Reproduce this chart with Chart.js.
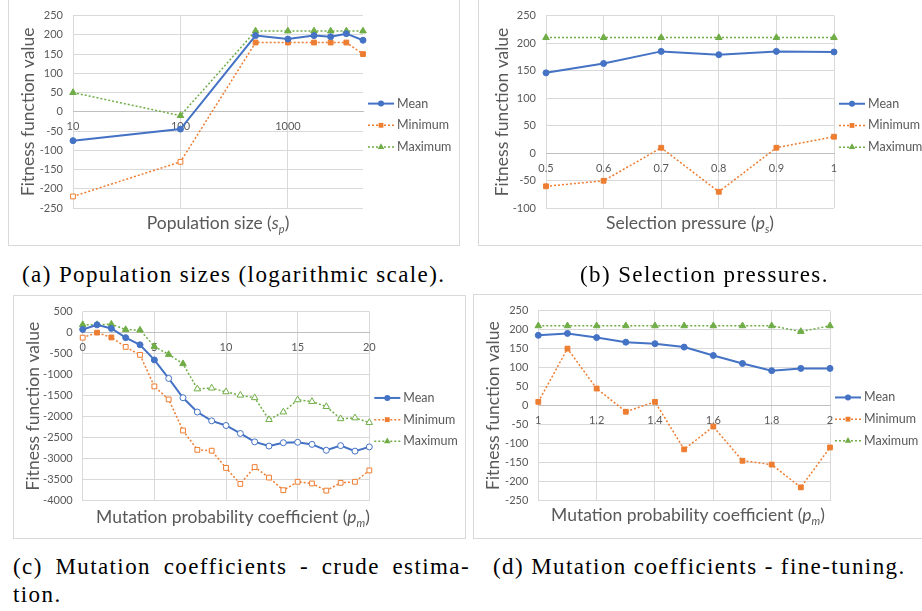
<!DOCTYPE html>
<html>
<head>
<meta charset="utf-8">
<script src="https://cdn.jsdelivr.net/npm/chart.js"></script>
<style>
body{margin:0;background:#fff;width:922px;height:611px;overflow:hidden;position:relative;font-family:Lato,sans-serif}
.panel{position:absolute}
.panel canvas{display:block}
.frame{position:absolute;border:1px solid #d9d9d9;box-sizing:border-box}
.xt{position:absolute;color:#595959;font-size:17.5px;white-space:nowrap;transform:translate(-50%,-50%);line-height:20px}
.xt sub{font-size:11px;vertical-align:-4px;line-height:0}
.cap{position:absolute;font-family:"Liberation Serif",serif;font-size:23px;letter-spacing:1.4px;color:#000;white-space:nowrap;line-height:28px}
</style>
</head>
<body>

<div class="frame" style="left:8px;top:-2px;width:452px;height:248px"></div>
<div class="panel" style="left:8px;top:-1px"><canvas id="chartA" width="452" height="247"></canvas></div>
<div class="xt" style="left:218px;top:223px">Population size (<i>s</i><sub><i>p</i></sub>)</div>

<div class="frame" style="left:478px;top:-2px;width:446px;height:248px"></div>
<div class="panel" style="left:478px;top:-1px"><canvas id="chartB" width="444" height="247"></canvas></div>
<div class="xt" style="left:690px;top:223px">Selection pressure (<i>p</i><sub><i>s</i></sub>)</div>

<div class="frame" style="left:13px;top:295px;width:453px;height:244px"></div>
<div class="panel" style="left:13px;top:295px"><canvas id="chartC" width="453" height="244"></canvas></div>
<div class="xt" style="left:233px;top:517px">Mutation probability coefficient (<i>p</i><sub><i>m</i></sub>)</div>

<div class="frame" style="left:473px;top:294px;width:451px;height:245px"></div>
<div class="panel" style="left:473px;top:294px"><canvas id="chartD" width="449" height="245"></canvas></div>
<div class="xt" style="left:688px;top:515px">Mutation probability coefficient (<i>p</i><sub><i>m</i></sub>)</div>

<div class="cap" style="left:22px;top:261px">(a) Population sizes (logarithmic scale).</div>
<div class="cap" style="left:580px;top:261px">(b) Selection pressures.</div>
<div class="cap" style="left:13px;top:553px;width:457px;text-align:justify;text-align-last:justify">(c) Mutation coefficients - crude estima-</div>
<div class="cap" style="left:13px;top:581px">tion.</div>
<div class="cap" style="left:493px;top:553px">(d) Mutation coefficients - fine-tuning.</div>

<script>
// (a) population size
const popSizes = [10, 100, 500, 1000, 1750, 2500, 3500, 5000];
const popMean = [-75, -45, 198, 189, 198, 195, 203, 186];
const popMin = [-220, -130, 180, 180, 180, 180, 180, 150];
const popMax = [50, -10, 210, 210, 210, 210, 210, 210];
const popTicks = [10, 100, 1000];

// (b) selection pressure
const selPressure = [0.5, 0.6, 0.7, 0.8, 0.9, 1];
const selMean = [146, 163, 185, 179, 185, 184];
const selMin = [-60, -50, 10, -70, 10, 30];
const selMax = [210, 210, 210, 210, 210, 210];

// (c) mutation coefficient, crude
const crudeCoef = [0, 1, 2, 3, 4, 5, 6, 7, 8, 9, 10, 11, 12, 13, 14, 15, 16, 17, 18, 19, 20];
const crudeMean = [75, 185, 100, -120, -290, -650, -1090, -1550, -1890, -2100, -2210, -2400, -2600, -2700, -2620, -2610, -2660, -2800, -2690, -2820, -2720];
const crudeMin = [-120, 0, -115, -340, -530, -1280, -1590, -2330, -2790, -2810, -3220, -3600, -3200, -3450, -3750, -3550, -3590, -3760, -3575, -3550, -3280];
const crudeMax = [190, 190, 200, 70, 60, -330, -520, -740, -1340, -1320, -1410, -1490, -1550, -2070, -1890, -1600, -1640, -1760, -2050, -2030, -2140];

// (d) mutation coefficient, fine
const fineCoef = [1, 1.1, 1.2, 1.3, 1.4, 1.5, 1.6, 1.7, 1.8, 1.9, 2];
const fineMean = [185, 190, 179, 167, 163, 154, 132, 111, 92, 98, 98];
const fineMin = [10, 150, 45, -16, 10, -115, -55, -145, -155, -215, -110];
const fineMax = [210, 210, 210, 210, 210, 210, 210, 210, 210, 195, 210];

const BLUE = '#4472C4', ORANGE = '#ED7D31', GREEN = '#70AD47';
const TXT = '#595959', GRID = '#d9d9d9';

function marker(ctx, style, x, y, r) {
  ctx.beginPath();
  if (style == 'circle') {
    ctx.arc(x, y, r, 0, Math.PI * 2);
  } else if (style == 'rect') {
    const s = r * Math.SQRT1_2;
    ctx.rect(x - s, y - s, 2 * s, 2 * s);
  } else {
    ctx.moveTo(x, y - r);
    ctx.lineTo(x + r * 0.866, y + r * 0.5);
    ctx.lineTo(x - r * 0.866, y + r * 0.5);
    ctx.closePath();
  }
  ctx.fill();
}

// excel style legend: line + marker + label, right of the plot
const sideLegend = {
  id: 'sideLegend',
  afterDraw(chart) {
    const ctx = chart.ctx, area = chart.chartArea;
    const cy = (area.top + area.bottom) / 2 + 13.5;
    chart.data.datasets.forEach((ds, i) => {
      const y = cy + (i - 1) * 21.7;
      const x0 = area.right + 5;
      ctx.save();
      ctx.strokeStyle = ds.borderColor;
      ctx.lineWidth = ds.borderWidth;
      ctx.setLineDash(ds.borderDash || []);
      ctx.beginPath();
      ctx.moveTo(x0, y);
      ctx.lineTo(x0 + 26, y);
      ctx.stroke();
      ctx.fillStyle = ds.borderColor;
      marker(ctx, ds.pointStyle, x0 + 13, y, ds.pointRadius);
      ctx.fillStyle = TXT;
      ctx.font = '12.5px Lato';
      ctx.textBaseline = 'middle';
      ctx.fillText(ds.label, x0 + 29, y);
      ctx.restore();
    });
  }
};

function fills(color, n, hollow) {
  const out = [];
  for (let i = 0; i < n; i++) out.push(hollow(i) ? '#ffffff' : color);
  return out;
}

function makeChart(id, xs, mean, min, max, o) {
  const pts = ys => xs.map((x, i) => ({x: x, y: ys[i]}));
  const n = xs.length;
  const h = o.hollow || {};
  const no = () => false;
  const xCommon = {type: o.xType, min: o.xMin, max: o.xMax};
  const fixTicks = o.xTicks ? (s => { s.ticks = o.xTicks.map(v => ({value: v})); }) : undefined;

  return new Chart(id, {
    type: 'line',
    data: {
      datasets: [{
        label: 'Mean', data: pts(mean),
        borderColor: BLUE, backgroundColor: BLUE, borderWidth: 2,
        pointStyle: 'circle', pointRadius: 3, pointBorderWidth: 1, pointBorderColor: BLUE,
        pointBackgroundColor: fills(BLUE, n, h.mean || no),
        xAxisID: 'x', yAxisID: 'y', clip: false
      }, {
        label: 'Minimum', data: pts(min),
        borderColor: ORANGE, backgroundColor: ORANGE, borderWidth: 1.5, borderDash: [2, 2],
        pointStyle: 'rect', pointRadius: 3.4, pointBorderWidth: 1, pointBorderColor: ORANGE,
        pointBackgroundColor: fills(ORANGE, n, h.min || no),
        xAxisID: 'x', yAxisID: 'y', clip: false
      }, {
        label: 'Maximum', data: pts(max),
        borderColor: GREEN, backgroundColor: GREEN, borderWidth: 1.5, borderDash: [2, 2],
        pointStyle: 'triangle', pointRadius: 3.8, pointBorderWidth: 1, pointBorderColor: GREEN,
        pointBackgroundColor: fills(GREEN, n, h.max || no),
        xAxisID: 'x', yAxisID: 'y', clip: false
      }]
    },
    options: {
      responsive: false,
      animation: false,
      devicePixelRatio: 1,
      layout: {padding: o.pad},
      plugins: {legend: {display: false}, tooltip: {enabled: false}},
      scales: {
        x: Object.assign({}, xCommon, {
          ticks: {display: false, stepSize: o.xStep},
          grid: {color: GRID, drawTicks: false},
          border: {display: false},
          afterBuildTicks: fixTicks,
          afterFit: s => { s.height = 0; }
        }),
        x2: Object.assign({}, xCommon, {
          axis: 'x',
          position: {y: 0},
          ticks: {stepSize: o.xStep, color: TXT, font: {size: 11}, padding: 8.5,
                  autoSkip: false, maxRotation: 0, callback: v => String(v)},
          grid: {display: false, drawTicks: false},
          border: {display: true, color: '#bfbfbf', width: 1},
          afterBuildTicks: fixTicks,
          afterFit: s => { s.height = 0; }
        }),
        y: {
          type: 'linear', min: o.yMin, max: o.yMax,
          ticks: {stepSize: o.yStep, color: TXT, font: {size: 11}, padding: 10, callback: v => String(v)},
          grid: {color: GRID, drawTicks: false},
          border: {display: false},
          title: {display: true, text: 'Fitness function value', color: TXT,
                  font: {size: 17.5}, padding: {top: 0, bottom: 0}},
          afterFit: s => { s.width = o.yWidth; }
        }
      }
    },
    plugins: [sideLegend]
  });
}

Chart.defaults.font.family = 'Lato';

makeChart('chartA', popSizes, popMean, popMin, popMax, {
  xType: 'logarithmic', xMin: 10, xMax: 5000, xTicks: popTicks,
  yMin: -250, yMax: 250, yStep: 50,
  pad: {left: 9.5, right: 97, top: 13.7, bottom: 38}, yWidth: 55.5,
  hollow: {min: i => i < 2}
});

makeChart('chartB', selPressure, selMean, selMin, selMax, {
  xType: 'linear', xMin: 0.5, xMax: 1, xStep: 0.1,
  yMin: -100, yMax: 250, yStep: 50,
  pad: {left: 13.5, right: 88, top: 16, bottom: 37.7}, yWidth: 54.5
});

makeChart('chartC', crudeCoef, crudeMean, crudeMin, crudeMax, {
  xType: 'linear', xMin: 0, xMax: 20, xStep: 5,
  yMin: -4000, yMax: 500, yStep: 500,
  pad: {left: 9.5, right: 96.7, top: 11, bottom: 38.3}, yWidth: 60.2,
  hollow: {mean: i => i >= 6, min: i => i == 0 || i >= 3, max: i => i >= 8}
});

makeChart('chartD', fineCoef, fineMean, fineMin, fineMax, {
  xType: 'linear', xMin: 1, xMax: 2, xStep: 0.2,
  yMin: -250, yMax: 250, yStep: 50,
  pad: {left: 9.5, right: 92, top: 12, bottom: 38.3}, yWidth: 55.8
});
</script>
</body>
</html>
